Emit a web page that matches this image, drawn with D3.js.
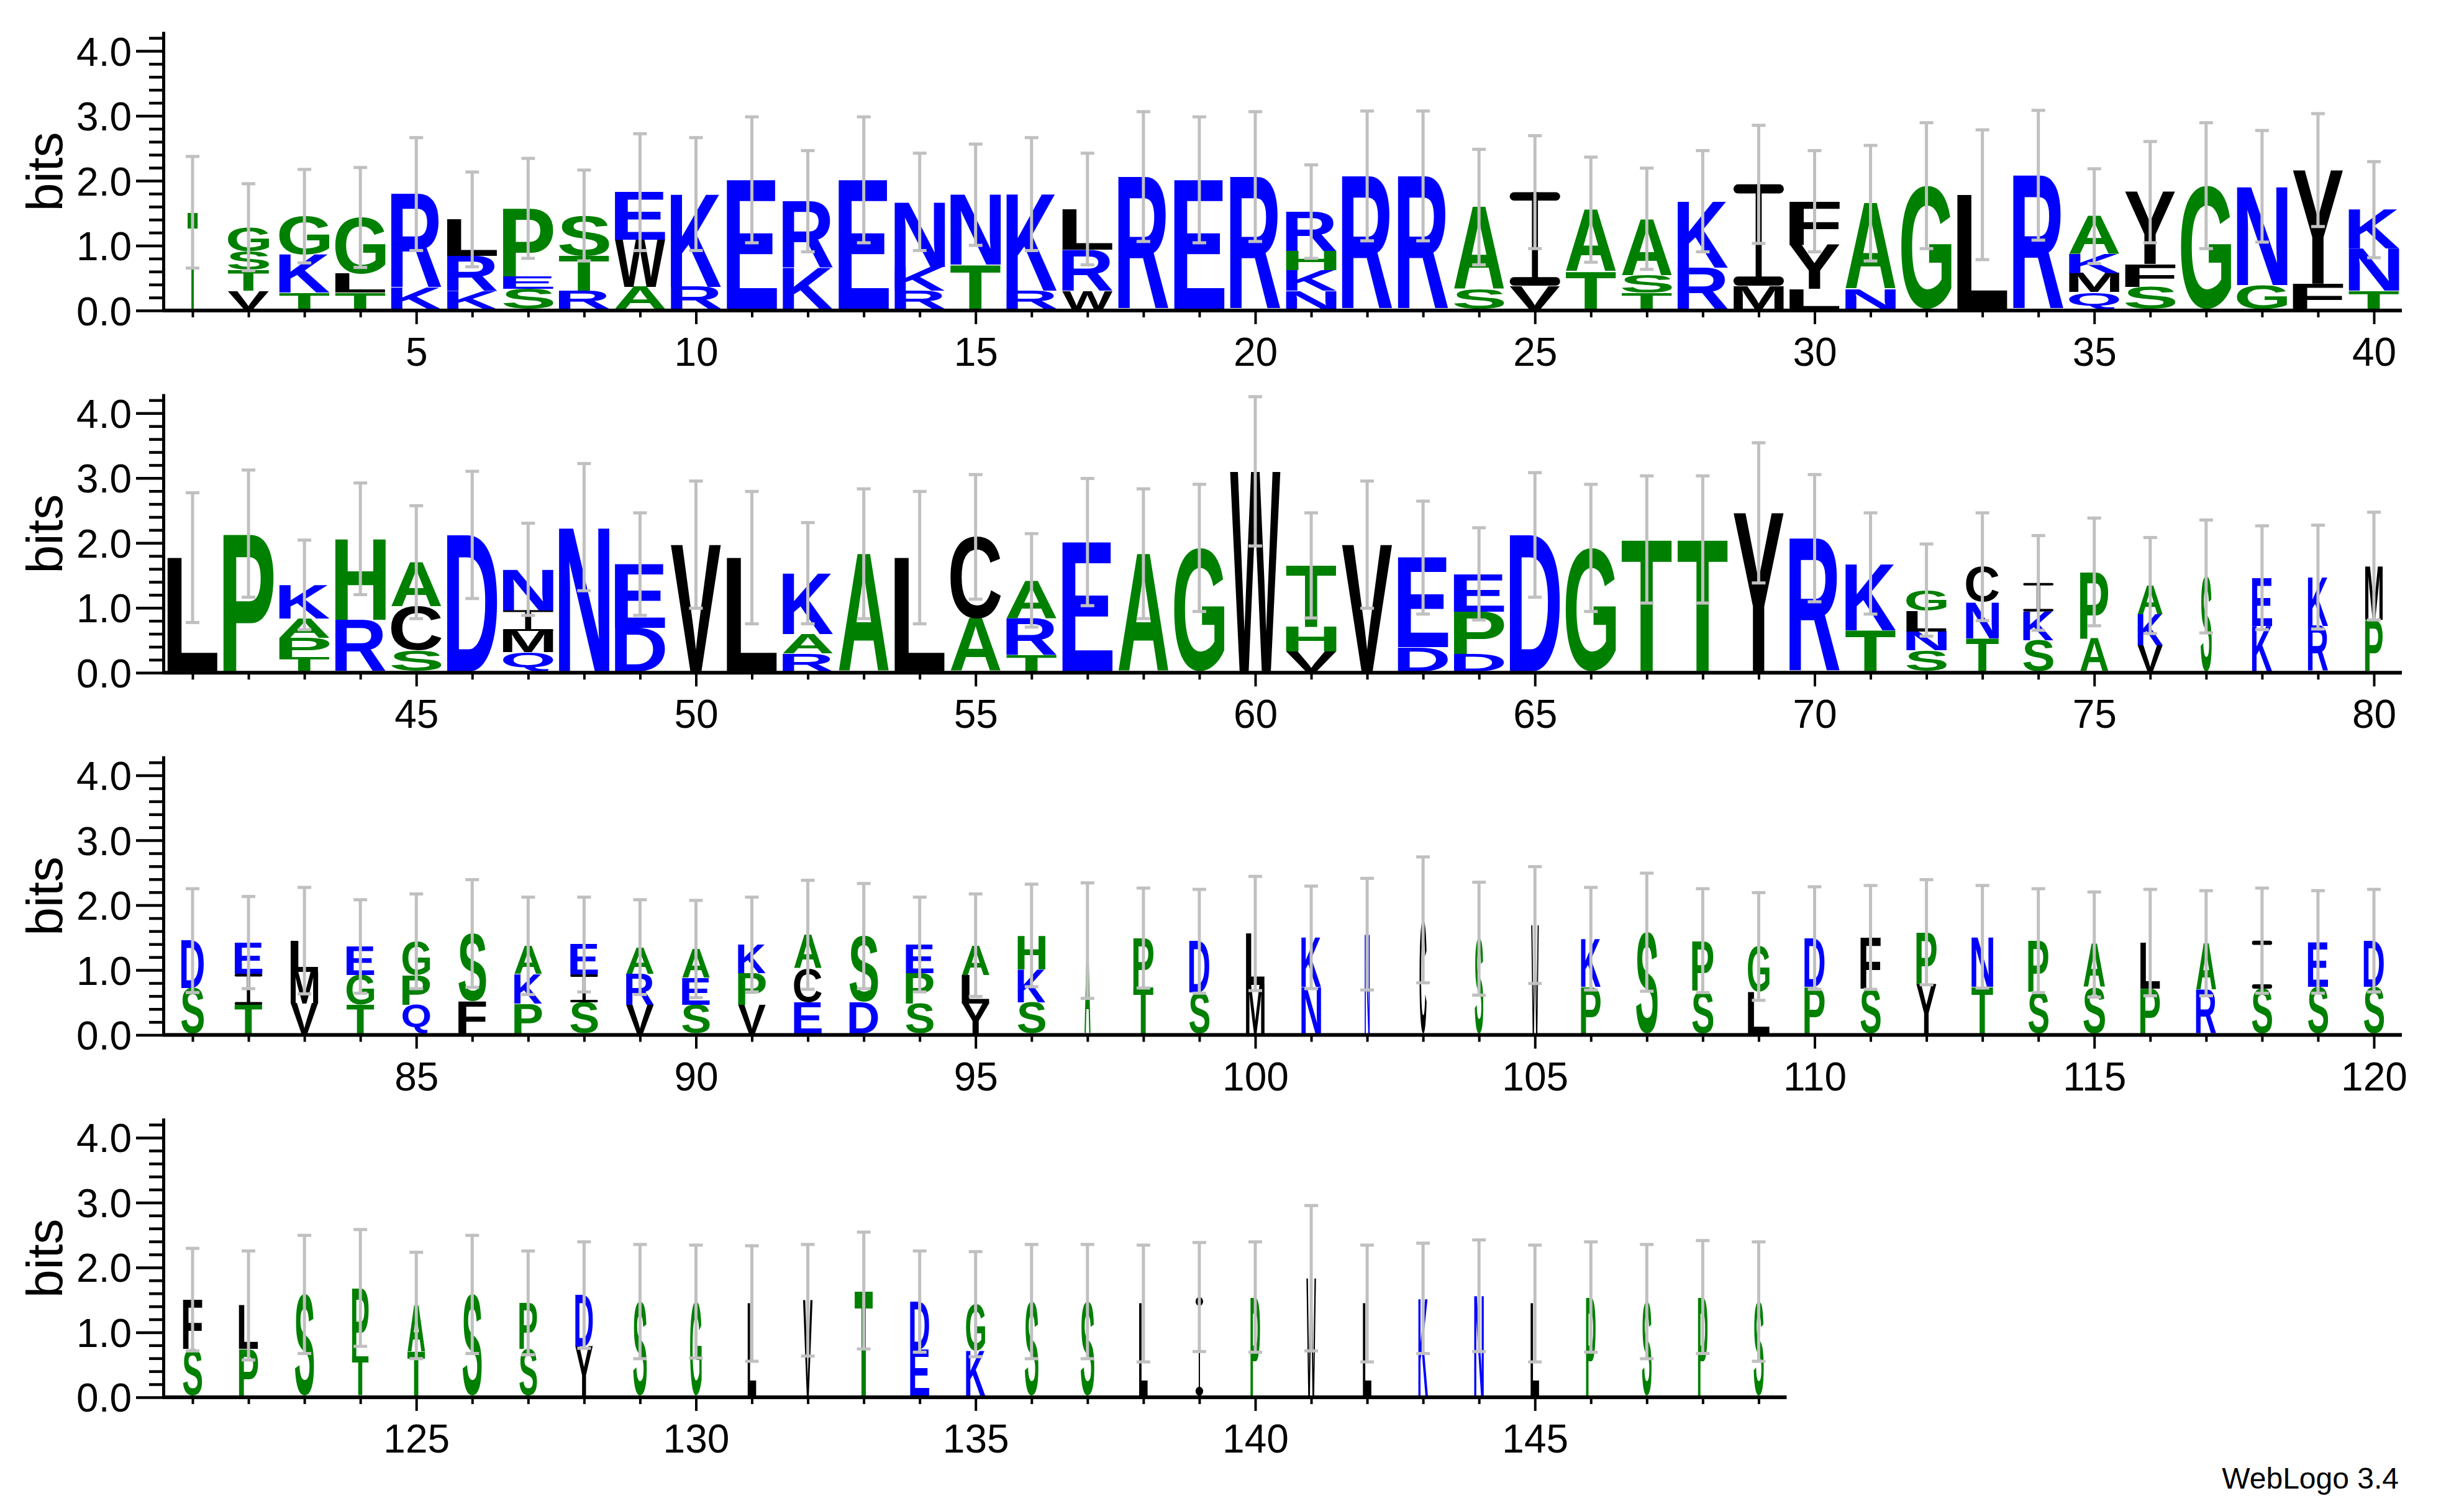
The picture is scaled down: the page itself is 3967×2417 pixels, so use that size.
<!DOCTYPE html>
<html><head><meta charset="utf-8">
<script src="https://cdn.jsdelivr.net/npm/d3@7"></script>
<style>body{margin:0;background:#fff}svg{display:block}</style>
</head><body>
<svg id="c" width="3967" height="2417"></svg>
<script>
// stacks: letters bottom -> top, heights in bits
const stacks1 = [
 [["T",1.49]],[["V",.28],["T",.32],["S",.29],["G",.37]],[["T",.25],["K",.59],["G",.59]],[["T",.25],["L",.29],["G",.87]],
 [["K",.33],["R",1.44]],[["K",.28],["R",.54],["L",.56]],[["S",.31],["E",.19],["P",1.05]],[["R",.28],["T",.54],["S",.62]],
 [["A",.34],["W",.73],["E",.73]],[["R",.34],["K",1.43]],[["E",1.99]],[["K",.64],["R",1.02]],
 [["E",1.99]],[["R",.28],["K",.37],["N",1.0]],[["T",.68],["N",1.08]],[["R",.28],["K",1.49]],
 [["W",.28],["R",.63],["L",.63]],[["R",2.04]],[["E",1.99]],[["R",2.04]],
 [["N",.28],["K",.32],["H",.29],["R",.61]],[["R",2.05]],[["R",2.05]],[["S",.30],["A",1.27]],
 [["V",.36],["I",1.44]],[["T",.58],["A",.95]],[["T",.25],["S",.27],["A",.87]],[["R",.64],["K",1.02]],
 [["M",.36],["I",1.56]],[["L",.31],["Y",.68],["F",.67]],[["N",.31],["A",1.32]],[["G",1.90]],
 [["L",1.76]],[["R",2.06]],[["Q",.26],["M",.29],["K",.29],["A",.59]],[["S",.34],["F",.35],["Y",1.11]],
 [["G",1.90]],[["G",.37],["N",1.52]],[["F",.39],["Y",1.75]],[["T",.28],["N",.65],["K",.60]]
];
const stacks2 = [
 [["L",1.75]],[["P",2.12]],[["T",.22],["P",.29],["A",.30],["K",.52]],[["R",.79],["H",1.25]],
 [["S",.32],["C",.68],["A",.68]],[["D",2.10]],[["Q",.29],["M",.33],["I",.32],["N",.63]],[["N",2.22]],
 [["D",.67],["E",.98]],[["V",1.95]],[["L",1.75]],[["R",.27],["A",.30],["K",.94]],
 [["A",1.81]],[["L",1.75]],[["A",.81],["C",1.26]],[["T",.25],["R",.57],["A",.58]],
 [["E",1.99]],[["A",1.81]],[["G",1.90]],[["W",3.08]],
 [["V",.30],["H",.38],["T",.95]],[["V",1.95]],[["D",.37],["E",1.38]],[["D",.27],["P",.65],["E",.58]],
 [["D",2.10]],[["G",1.90]],[["T",2.03]],[["T",2.03]],
 [["Y",2.44]],[["R",2.05]],[["T",.63],["K",1.03]],[["S",.32],["N",.29],["L",.32],["G",.32]],
 [["T",.51],["N",.56],["C",.54]],[["S",.48],["K",.44],["I",.44]],[["A",.51],["P",1.02]],[["V",.40],["K",.48],["A",.44]],
 [["S",1.46]],[["K",.70],["E",.74]],[["R",.70],["K",.75]],[["P",.79],["M",.83]]
];
const stacks3 = [
 [["S",.70],["D",.73]],[["T",.44],["I",.48],["E",.48]],[["V",.46],["M",.49],["L",.48]],[["T",.44],["G",.46],["E",.44]],
 [["Q",.44],["P",.46],["G",.52]],[["F",.49],["S",1.05]],[["P",.46],["K",.46],["A",.43]],[["S",.48],["I",.43],["E",.46]],
 [["V",.44],["R",.48],["A",.41]],[["S",.44],["E",.42],["A",.44]],[["V",.44],["P",.49],["K",.44]],[["E",.48],["C",.52],["A",.52]],
 [["D",.48],["S",1.02]],[["S",.46],["P",.47],["E",.44]],[["Y",.46],["L",.44],["A",.46]],[["S",.48],["K",.51],["H",.52]],
 [["A",1.43]],[["T",.71],["P",.76]],[["S",.63],["D",.79]],[["M",.75],["L",.79]],
 [["N",.72],["K",.76]],[["N",1.53]],[["C",1.75]],[["S",1.46]],
 [["W",1.67]],[["P",.72],["K",.74]],[["S",1.56]],[["S",.66],["P",.77]],
 [["L",.64],["G",.70]],[["P",.72],["D",.75]],[["S",.69],["F",.79]],[["Y",.76],["P",.80]],
 [["T",.72],["N",.77]],[["S",.64],["P",.79]],[["S",.71],["A",.66]],[["P",.69],["L",.71]],
 [["R",.68],["A",.71]],[["S",.69],["I",.74]],[["S",.72],["E",.69]],[["S",.72],["D",.71]]
];
const stacks4 = [
 [["S",.72],["F",.76]],[["P",.72],["L",.67]],[["S",1.56]],[["T",.60],["P",1.06]],
 [["T",.68],["A",.71]],[["S",1.56]],[["S",.72],["P",.71]],[["Y",.76],["D",.79]],
 [["S",1.45]],[["G",1.45]],[["L",1.42]],[["V",1.47]],
 [["T",1.62]],[["E",.71],["D",.74]],[["K",.69],["G",.72]],[["S",1.45]],
 [["S",1.45]],[["L",1.42]],[["I",1.52]],[["P",1.52]],
 [["W",1.81]],[["L",1.42]],[["K",1.50]],[["N",1.54]],
 [["L",1.42]],[["P",1.52]],[["S",1.45]],[["P",1.52]],[["S",1.45]]
];
const errors1 = [.86,.67,.72,.77,.87,.73,.77,.70,.90,.87,.97,.78,.97,.75,.78,.87,.86,1.0,.97,1.0,.72,1.0,1.0,.89,.87,.81,.78,.78,.91,.78,.89,.97,1.0,1.0,.73,.78,.97,.86,.87,.74];
const errors2 = [1.0,.98,.69,.86,.87,.98,.71,.98,.79,.98,1.02,.78,1.0,1.02,.96,.72,.98,1.0,.98,1.15,.81,.98,.87,.71,.96,.98,.98,.98,1.08,.98,.78,.71,.83,.73,.83,.74,.87,.80,.80,.83];
const errors3 = [.80,.71,.82,.72,.73,.83,.75,.73,.73,.75,.73,.84,.81,.73,.79,.79,.89,.77,.80,.88,.79,.86,.97,.87,.90,.79,.91,.80,.83,.79,.80,.81,.79,.80,.81,.82,.81,.81,.79,.79];
const errors4 = [.79,.84,.91,.90,.82,.91,.80,.82,.88,.87,.89,.86,.90,.78,.81,.88,.88,.90,.84,.85,1.12,.90,.85,.86,.90,.85,.88,.87,.92];
// relative column width (fraction of sequences present)
const widths1 = [.2,.82,1,1,1,1,1,1,1,1,1,1,1,1,1,1,1,1,1,1,1,1,1,1,1,1,1,1,1,1,1,1,1,1,1,1,1,1,1,1];
const widths2 = [1,1,1,1,1,1,1,1,1,1,1,1,1,1,1,1,1,1,1,1,1,1,1,1,1,1,1,1,1,1,1,.8,.65,.6,.56,.5,.22,.4,.4,.35];
const widths3 = [.45,.55,.55,.55,.55,.55,.55,.55,.55,.55,.55,.55,.57,.55,.55,.55,.12,.4,.4,.37,.39,.1,.14,.17,.15,.39,.43,.42,.43,.4,.4,.4,.43,.4,.43,.39,.4,.4,.4,.4];
const widths4 = [.38,.38,.38,.33,.35,.38,.35,.35,.27,.23,.17,.19,.36,.38,.38,.27,.27,.17,.15,.19,.19,.17,.19,.19,.17,.19,.19,.19,.2];
const rowStarts = [1,41,81,121];
const yTicks = [0,1,2,3,4];
const footer = "WebLogo 3.4";

const rows = [
 {start:rowStarts[0], stacks:stacks1, errors:errors1, widths:widths1},
 {start:rowStarts[1], stacks:stacks2, errors:errors2, widths:widths2},
 {start:rowStarts[2], stacks:stacks3, errors:errors3, widths:widths3},
 {start:rowStarts[3], stacks:stacks4, errors:errors4, widths:widths4}
];
const colorOf = ch => "RKDENQ".includes(ch) ? "#0000ff" : ("SGHTAP".includes(ch) ? "#008000" : "#000000");

const cv = document.createElement("canvas").getContext("2d");
cv.font = "bold 200px 'Liberation Sans'";
const metrics = {};
function m(ch){ if(!metrics[ch]){ const t=cv.measureText(ch); metrics[ch]={L:t.actualBoundingBoxLeft,R:t.actualBoundingBoxRight,A:t.actualBoundingBoxAscent,D:t.actualBoundingBoxDescent}; } return metrics[ch]; }

const svg = d3.select("#c");
const X0 = 265, STEP = 90.05, BIT = 104.5, BASE0 = 500, ROWGAP = 583.3;
const labelFont = "'Liberation Sans', Arial, sans-serif";

rows.forEach((row, ri) => {
  const n = row.stacks.length;
  const base = BASE0 + ri*ROWGAP;
  const x = d3.scaleLinear().domain([row.start-0.5, row.start+n-0.5]).range([X0, X0+n*STEP]);
  const y = d3.scaleLinear().domain([0,4.3]).range([base, base-4.3*BIT]);
  const g = svg.append("g");
  const positions = d3.range(row.start, row.start+n);

  positions.forEach((p,i) => {
    const w = 0.9*STEP*row.widths[i];
    const xl = x(p) - w/2;
    let cum = 0;
    row.stacks[i].forEach(([ch,h]) => {
      const yb = y(cum) - 2.5, yt = y(cum+h) - 2.5;
      const col = colorOf(ch);
      if (ch === "I") {
        // serif-style I as drawn by WebLogo: two crossbars and a thin stem
        const hh = yb - yt, bar = Math.max(2, hh*0.09), stem = Math.max(2, w*0.12);
        const gi = g.append("g").attr("fill", col);
        gi.append("rect").attr("x",xl).attr("y",yt).attr("width",w).attr("height",bar).attr("rx",bar/2);
        gi.append("rect").attr("x",xl).attr("y",yb-bar).attr("width",w).attr("height",bar).attr("rx",bar/2);
        gi.append("rect").attr("x",x(p)-stem/2).attr("y",yt).attr("width",stem).attr("height",hh);
      } else {
        const mm = m(ch);
        const sx = w/(mm.L+mm.R), sy = (yb-yt)/(mm.A+mm.D);
        g.append("text").text(ch)
          .attr("font-family","'Liberation Sans', Arial, sans-serif").attr("font-weight","bold").attr("font-size",200)
          .attr("fill", col)
          .attr("transform", `translate(${xl+mm.L*sx},${yt+mm.A*sy}) scale(${sx},${sy})`);
      }
      cum += h;
    });
    const e = row.errors[i];
    const lo = y(cum-e)-2.5, hi = y(cum+e)-2.5;
    g.append("line").attr("x1",x(p)).attr("x2",x(p)).attr("y1",lo).attr("y2",hi).attr("stroke","#c0c0c0").attr("stroke-width",5);
    [lo,hi].forEach(yy => g.append("rect").attr("x",x(p)-11).attr("y",yy-2.5).attr("width",22).attr("height",5).attr("fill","#c0c0c0"));
  });

  const xa = g.append("g").attr("transform",`translate(0,${base})`)
    .call(d3.axisBottom(x).tickValues(positions).tickSize(11).tickSizeOuter(0).tickFormat(d => d%5===0 ? d : ""));
  xa.select(".domain").attr("stroke-width",6).attr("d",`M${X0-3},0H${X0+n*STEP}`);
  xa.selectAll(".tick line").attr("stroke-width",4).attr("y2", d => d%5===0 ? 22 : 11);
  xa.selectAll(".tick text").attr("font-family",labelFont).attr("font-size",64).attr("y",89).attr("dy",0).attr("fill","#000");

  const minor = d3.range(0,22).map(k => +(k*0.2).toFixed(1));
  const ya = g.append("g").attr("transform",`translate(${X0-2},0)`)
    .call(d3.axisLeft(y).tickValues(minor).tickSize(23).tickSizeOuter(0).tickFormat(d => yTicks.includes(d) ? d3.format(".1f")(d) : ""));
  ya.select(".domain").attr("stroke-width",5);
  ya.selectAll(".tick line").attr("stroke-width",4.5).attr("x2", d => yTicks.includes(d) ? -44 : -23);
  ya.selectAll(".tick text").attr("font-family",labelFont).attr("font-size",64).attr("x",-51).attr("dy","0.36em").attr("fill","#000");

  g.append("text").text("bits").attr("font-family",labelFont).attr("font-size",82)
    .attr("transform",`translate(100,${y(2.14)}) rotate(-90)`).attr("text-anchor","middle");
});

svg.append("text").text(footer).attr("x",3862).attr("y",2397).attr("text-anchor","end")
  .attr("font-family",labelFont).attr("font-size",48);
</script>
</body></html>
